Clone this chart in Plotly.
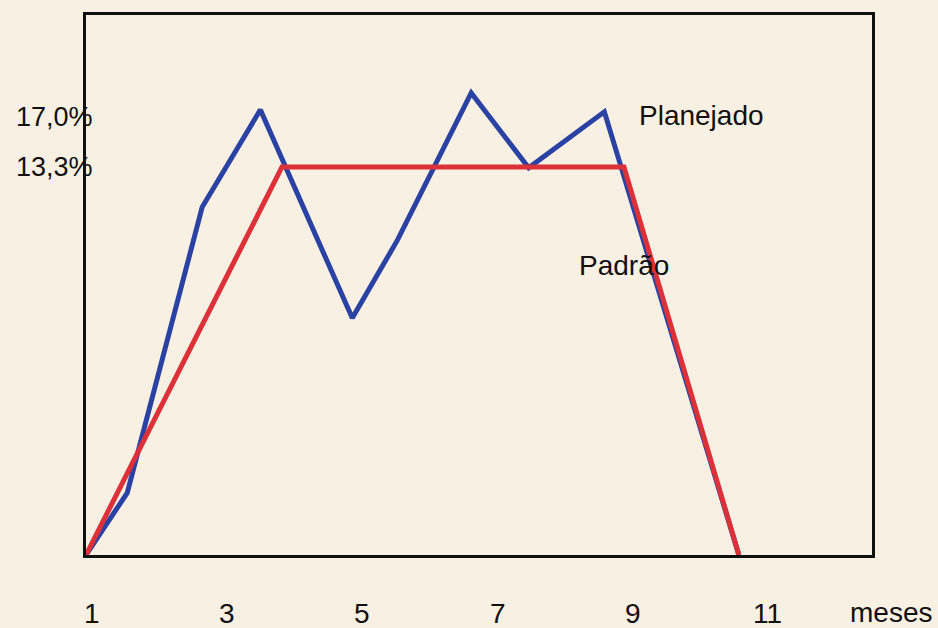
import plotly.graph_objects as go

# Data (months, % values)
plan_x = [1.0, 1.61, 2.72, 3.58, 4.94, 5.61, 6.70, 7.55, 8.67, 10.66]
plan_y = [0.0, 2.13, 11.93, 15.26, 8.12, 10.80, 15.84, 13.27, 15.19, 0.0]

padrao_x = [1.0, 3.90, 8.96, 10.66]
padrao_y = [0.0, 13.3, 13.3, 0.0]

x_ticks = [1, 3, 5, 7, 9, 11]
x_tick_labels = ["1", "3", "5", "7", "9", "11"]
y_ticks = [15.02, 13.3]
y_tick_labels = ["17,0%", "13,3%"]

series_labels = ["Planejado", "Padrão"]

BG = "#f8f0e3"
FONT = "Liberation Sans, Arial, sans-serif"
INK = "#111111"

fig = go.Figure()
fig.add_trace(go.Scatter(x=plan_x, y=plan_y, mode="lines",
                         line=dict(color="#2a42a3", width=5), name=series_labels[0]))
fig.add_trace(go.Scatter(x=padrao_x, y=padrao_y, mode="lines",
                         line=dict(color="#dc3139", width=5), name=series_labels[1]))

ann = []
for v, t in zip(y_ticks, y_tick_labels):
    ann.append(dict(x=0.011, xref="paper", y=v, yref="y", text=t, showarrow=False,
                    xanchor="right", yanchor="middle",
                    font=dict(family=FONT, size=27, color=INK)))
for v, t in zip(x_ticks, x_tick_labels):
    ann.append(dict(x=v, xref="x", y=0, yref="paper", yshift=-58, xshift=6, text=t,
                    showarrow=False, xanchor="center", yanchor="middle",
                    font=dict(family=FONT, size=28, color=INK)))
ann.append(dict(x=1.024, xref="paper", y=0, yref="paper", yshift=-57, text="meses",
                showarrow=False, xanchor="center", yanchor="middle",
                font=dict(family=FONT, size=28, color=INK)))
ann.append(dict(x=9.15, xref="x", y=15.05, yref="y", text=series_labels[0],
                showarrow=False, xanchor="left", yanchor="middle",
                font=dict(family=FONT, size=28, color=INK)))
ann.append(dict(x=8.26, xref="x", y=9.91, yref="y", text=series_labels[1],
                showarrow=False, xanchor="left", yanchor="middle",
                font=dict(family=FONT, size=28, color=INK)))

fig.update_layout(
    width=938, height=628,
    margin=dict(l=86, r=66, t=15, b=73),
    paper_bgcolor=BG, plot_bgcolor=BG,
    showlegend=False,
    annotations=ann,
    xaxis=dict(range=[1, 12.63], showgrid=False, zeroline=False, showticklabels=False,
               ticks="", showline=True, linecolor=INK, linewidth=3, mirror=True),
    yaxis=dict(range=[0, 18.51], showgrid=False, zeroline=False, showticklabels=False,
               ticks="", showline=True, linecolor=INK, linewidth=3, mirror=True),
)

fig.write_html("out.html", config={"displayModeBar": False},
               post_script="document.body.style.margin='0';document.body.style.background='" + BG + "';")
